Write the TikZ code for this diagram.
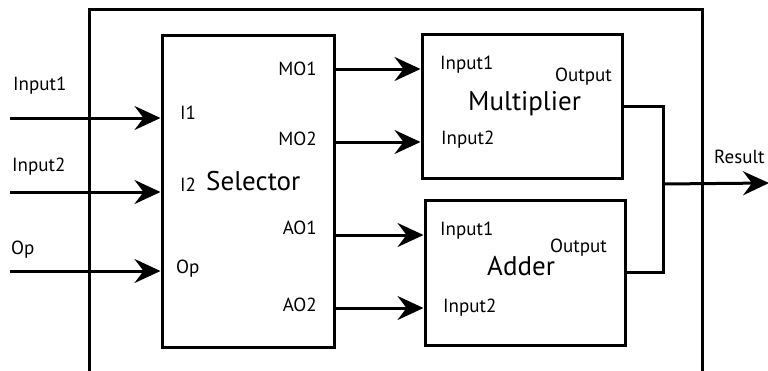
\documentclass[tikz,border=0pt]{standalone}
\usepackage{fontspec}
\setmainfont{PT Sans}
\usetikzlibrary{arrows.meta}

\begin{document}
\begin{tikzpicture}[x=1pt,y=-1pt, font=\fontsize{19}{22}\selectfont, inner sep=0pt,
  block/.style={draw, line width=3pt},
  big/.style={font=\fontsize{27}{30}\selectfont},
  sig/.style={-{Stealth[length=26pt,width=24pt,inset=9pt]}, line width=3pt},
  wire/.style={line width=3pt}]
\clip (0,0) rectangle (768,370);
% enclosing system box, open at the bottom
\draw[wire] (89,380) -- (89,9) -- (702,9) -- (702,380);
% blocks
\node[block, minimum width=172pt, minimum height=312pt] (sel) at (248,191) {};
\node[block, minimum width=200pt, minimum height=144pt] (mul) at (522,106) {};
\node[block, minimum width=200pt, minimum height=145pt] (add) at (525,272.5) {};
% block titles and ports
\node[big, anchor=base west] (seltxt) at (206,190) {Selector};
\node[anchor=base west] (i1) at (180,119) {I1};
\node[anchor=base west] (i2) at (180,191) {I2};
\node[anchor=base west] (op) at (176,273) {Op};
\node[anchor=base east] (mo1) at (317,75) {MO1};
\node[anchor=base east] (mo2) at (317,145) {MO2};
\node[anchor=base east] (ao1) at (317,234) {AO1};
\node[anchor=base east] (ao2) at (317,311) {AO2};
\node[big, anchor=base west] (multxt) at (468,110) {Multiplier};
\node[anchor=base west] (mul-in1) at (440,69) {Input1};
\node[anchor=base west] (mul-in2) at (441,144) {Input2};
\node[anchor=base east] (mul-out) at (612,81) {Output};
\node[big, anchor=base west] (addtxt) at (487,275) {Adder};
\node[anchor=base west] (add-in1) at (440,235) {Input1};
\node[anchor=base west] (add-in2) at (443,312) {Input2};
\node[anchor=base east] (add-out) at (607,252) {Output};
% external signals
\coordinate (in1) at (10,118);
\coordinate (in2) at (10,192);
\coordinate (inop) at (10,271);
\coordinate (join) at (663,184);
\coordinate (res) at (769,183);
\node[anchor=base west] (lin1) at (13,90) {Input1};
\node[anchor=base west] (lin2) at (12,171) {Input2};
\node[anchor=base west] (lop) at (11,254) {Op};
\node[anchor=base west] (lres) at (714,163) {Result};
\draw[sig] (in1) -- (in1 -| sel.west);
\draw[sig] (in2) -- (in2 -| sel.west);
\draw[sig] (inop) -- (inop -| sel.west);
% selector to the arithmetic blocks
\draw[sig] (sel.east |- 0,69) -- (mul.west |- 0,69);
\draw[sig] (sel.east |- 0,142) -- (mul.west |- 0,142);
\draw[sig] (sel.east |- 0,235) -- (add.west |- 0,235);
\draw[sig] (sel.east |- 0,308) -- (add.west |- 0,308);
% outputs merged into the result
\draw[wire] (mul.east |- 0,106) -| (join) |- (add.east |- 0,272);
\draw[sig] (join) -- (res);
\end{tikzpicture}
\end{document}
